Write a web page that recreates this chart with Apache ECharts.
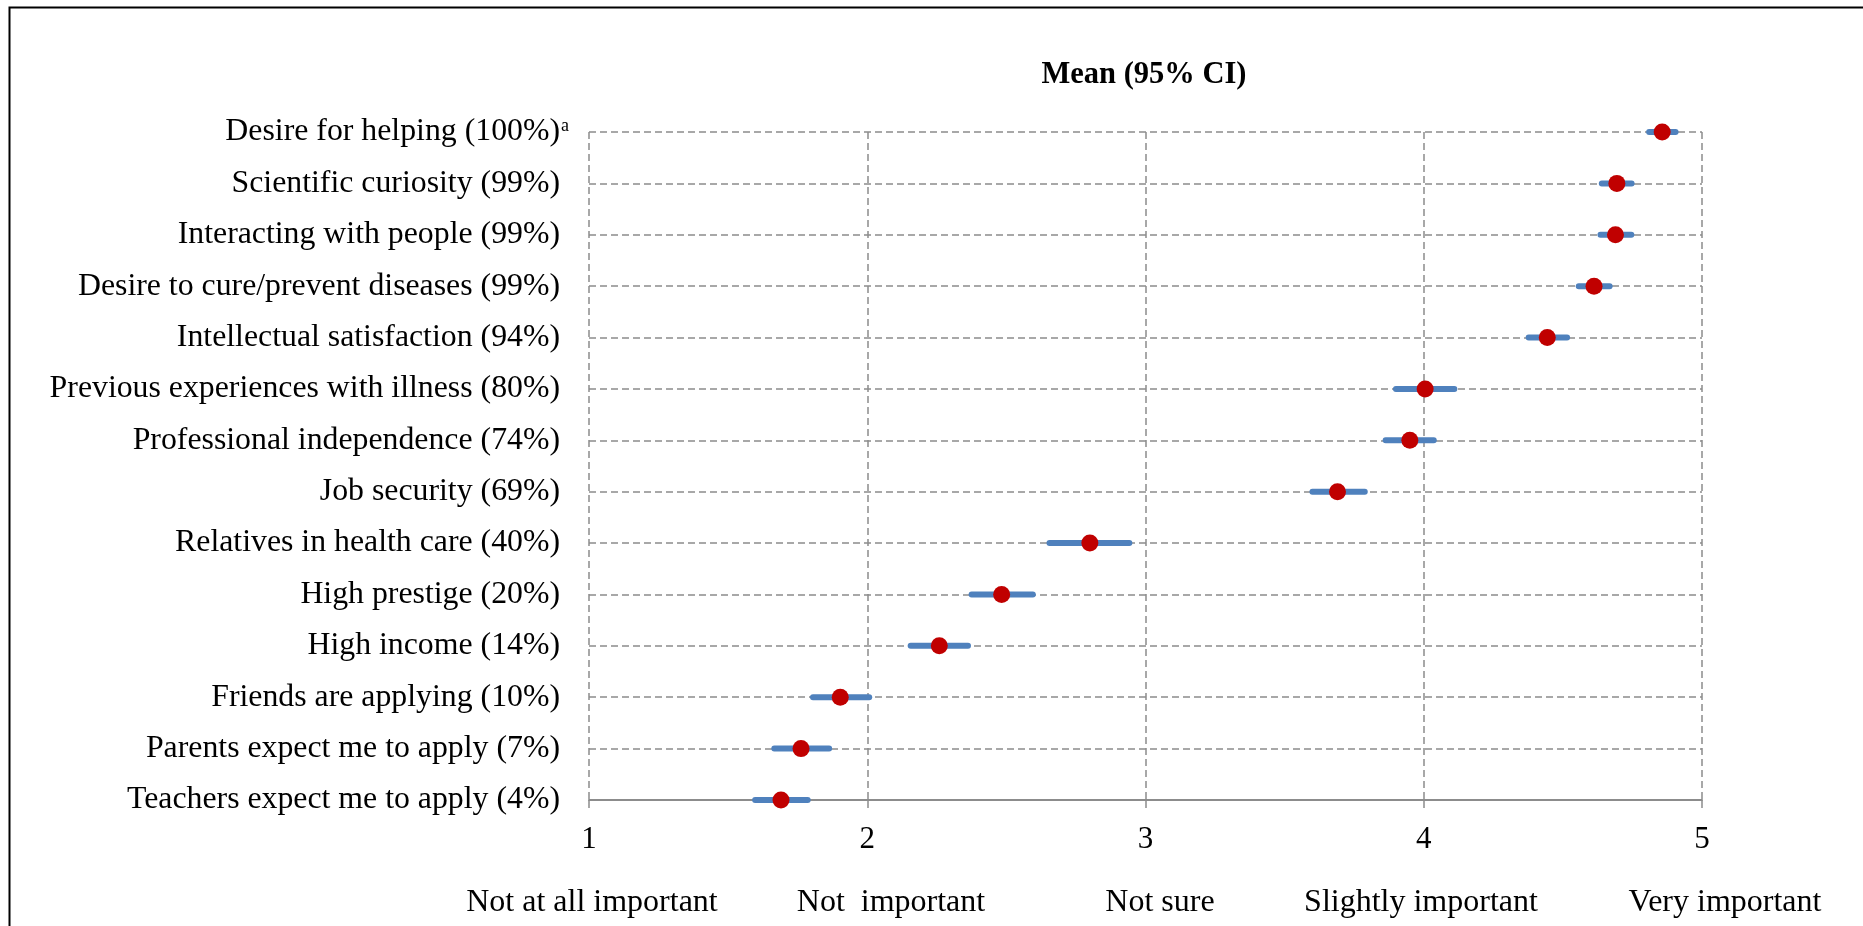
<!DOCTYPE html>
<html>
<head>
<meta charset="utf-8">
<script src="https://cdn.jsdelivr.net/npm/echarts@6/dist/echarts.min.js"></script>
<style>
html,body{margin:0;padding:0;background:#fff;}
#chart{width:1863px;height:926px;}
</style>
</head>
<body>
<div id="chart"></div>
<script>
const categories = [
  'Desire for helping (100%)',
  'Scientific curiosity (99%)',
  'Interacting with people (99%)',
  'Desire to cure/prevent diseases (99%)',
  'Intellectual satisfaction (94%)',
  'Previous experiences with illness (80%)',
  'Professional independence (74%)',
  'Job security (69%)',
  'Relatives in health care (40%)',
  'High prestige (20%)',
  'High income (14%)',
  'Friends are applying (10%)',
  'Parents expect me to apply (7%)',
  'Teachers expect me to apply (4%)'
];
const means = [4.857, 4.694, 4.689, 4.612, 4.444, 4.005, 3.95, 3.69, 2.80, 2.483, 2.259, 1.903, 1.762, 1.690];
const ciLow = [4.81, 4.64, 4.635, 4.557, 4.377, 3.90, 3.863, 3.60, 2.655, 2.375, 2.156, 1.805, 1.666, 1.597];
const ciHigh = [4.905, 4.747, 4.746, 4.668, 4.515, 4.11, 4.036, 3.788, 2.942, 2.595, 2.362, 2.007, 1.863, 1.786];
const xTicks = ['1', '2', '3', '4', '5'];
const scaleLabels = ['Not at all important', 'Not  important', 'Not sure', 'Slightly important', 'Very important'];
const titleText = 'Mean (95% CI)';
const footnoteIndex = 0;

const FONT = '"Liberation Serif", "DejaVu Serif", serif';
const gridColor = '#8c8c8c';

const chart = echarts.init(document.getElementById('chart'), null, {renderer: 'canvas'});

const ciData = categories.map((c, i) => [i, ciLow[i], ciHigh[i]]);
const meanData = categories.map((c, i) => [means[i], c]);

const scaleLabelX = [592, 891, 1160, 1421, 1725];

const option = {
  backgroundColor: '#fff',
  animation: false,
  title: {
    text: titleText,
    left: 1139,
    top: 55,
    textAlign: 'center',
    textStyle: {fontFamily: FONT, fontSize: 30.5, fontWeight: 'bold', color: '#000'}
  },
  grid: {left: 589, right: 161, top: 132, bottom: 126, containLabel: false},
  xAxis: {
    type: 'value',
    min: 1, max: 5, interval: 1,
    axisLine: {show: true, lineStyle: {color: '#8c8c8c', width: 2}},
    axisTick: {show: true, length: 8, lineStyle: {color: '#8c8c8c', width: 1.5}},
    axisLabel: {
      margin: 24,
      fontFamily: FONT, fontSize: 31, color: '#000',
      formatter: v => xTicks[Math.round(v) - 1] || ''
    },
    splitLine: {show: true, lineStyle: {color: gridColor, width: 1.5, type: [7, 4]}}
  },
  yAxis: {
    type: 'category',
    data: categories,
    inverse: true,
    boundaryGap: false,
    axisLine: {show: false},
    axisTick: {show: false},
    axisLabel: {
      interval: 0,
      margin: 20,
      fontFamily: FONT, fontSize: 31.8, color: '#000',
      formatter: (v) => {
        const idx = categories.indexOf(v);
        return idx === footnoteIndex ? v + '{sup|a}' : v + '{sp|}';
      },
      rich: {
        sup: {fontFamily: FONT, fontSize: 18, color: '#000', padding: [0, 0, 12, 1]},
        sp: {fontFamily: FONT, fontSize: 18, padding: [0, 0, 0, 9]}
      }
    },
    splitLine: {show: true, interval: 0, lineStyle: {color: gridColor, width: 1.5, type: [7, 4]}}
  },
  graphic: [
    {
      type: 'rect', left: 7, top: 5, z: 100, silent: true,
      shape: {width: 1900, height: 1000},
      style: {fill: 'none', stroke: '#000', lineWidth: 2}
    }
  ].concat(scaleLabels.map((t, i) => ({
    type: 'text', x: scaleLabelX[i], y: 903, z: 100, silent: true,
    style: {text: t, font: '32px ' + FONT, fill: '#000', align: 'center', verticalAlign: 'middle'}
  }))),
  series: [
    {
      type: 'custom',
      name: 'CI',
      data: ciData,
      encode: {y: 0, x: [1, 2]},
      renderItem: (params, api) => {
        const cat = api.value(0);
        const p1 = api.coord([api.value(1), cat]);
        const p2 = api.coord([api.value(2), cat]);
        return {
          type: 'line',
          shape: {x1: p1[0], y1: p1[1], x2: p2[0], y2: p2[1]},
          style: {stroke: '#4F81BD', lineWidth: 6, lineCap: 'round'}
        };
      },
      z: 3
    },
    {
      type: 'scatter',
      name: 'Mean',
      data: meanData,
      symbol: 'circle',
      symbolSize: 17,
      itemStyle: {color: '#C00000', opacity: 1},
      z: 4
    }
  ]
};
chart.setOption(option);
</script>
</body>
</html>
